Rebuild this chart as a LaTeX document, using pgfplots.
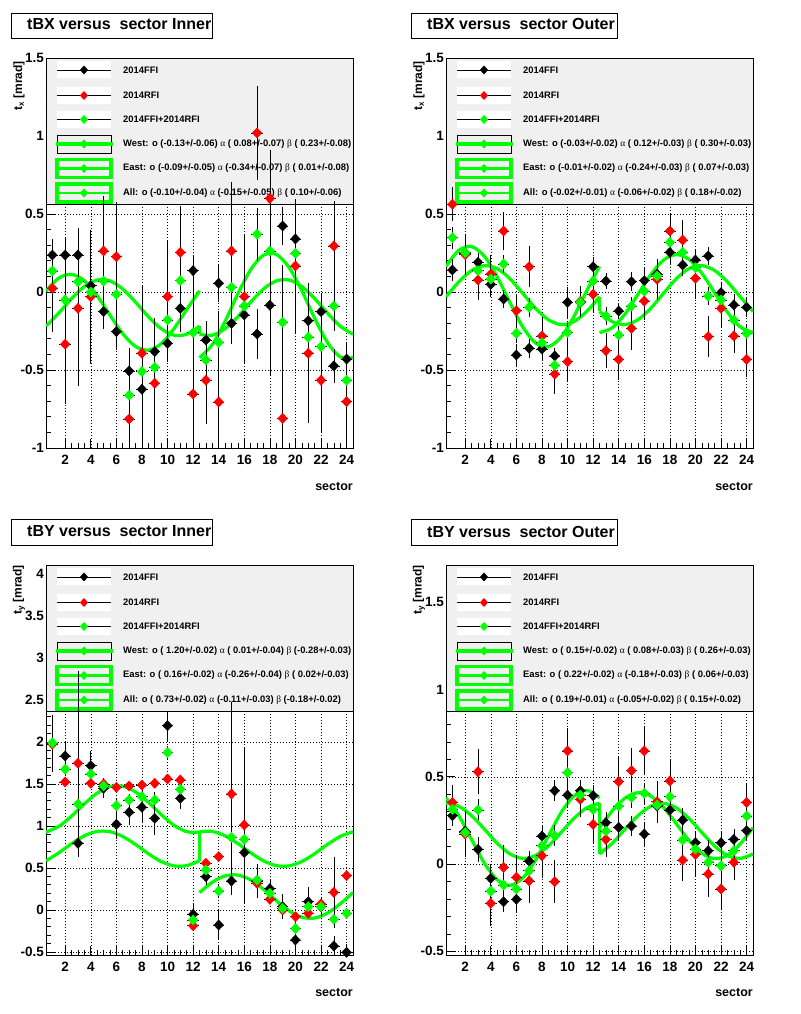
\documentclass[border=0pt]{standalone}
\usepackage{fontspec}
\setmainfont{Liberation Sans}
\newfontfamily\grk{Liberation Serif}
\usepackage{pgfplots}
\usepackage{pgfplotstable}
\pgfplotsset{compat=1.18}

\definecolor{rootgreen}{RGB}{0,255,0}
\definecolor{legfill}{RGB}{240,240,240}

\newcommand{\legfont}{\fontsize{9.4}{10}\selectfont\bfseries}
\newcommand{\tickfont}{\fontsize{13.5}{14}\selectfont\bfseries}
\newcommand{\titlefont}{\fontsize{16}{18}\selectfont\bfseries}
\newcommand{\labfont}{\fontsize{12.5}{14}\selectfont\bfseries}
\newcommand{\A}{{\grk\mdseries α}}
\newcommand{\B}{{\grk\mdseries β}}

\pgfplotsset{
  rootax/.style={
    scale only axis, width=307pt, height=390pt,
    xmin=0.5, xmax=24.5,
    xtick={2,4,...,24}, minor x tick num=3, minor y tick num=4,
    tick align=inside, tick pos=left,
    major tick length=9pt, minor tick length=5pt,
    grid=major,
    major grid style={black, line width=0.5pt, dash pattern=on 0.8pt off 2.2pt},
    axis line style={line width=0.8pt},
    tick style={black, line width=0.6pt},
    ticklabel style={font=\tickfont},
    /pgf/number format/assume math mode=true,
    yticklabel style={inner xsep=0pt, xshift=-2pt},
    xticklabel style={inner ysep=0pt, yshift=-7pt},
  },
  pts/.style={only marks, mark=diamond*, mark size=5.1pt, mark options={xscale=1.25},
    error bars/y dir=both, error bars/y explicit,
    error bars/x dir=both, error bars/x fixed=0.45,
    error bars/error mark=none,
    error bars/error bar style={black, line width=0.6pt}},
  fit/.style={rootgreen, line width=3.2pt, no marks},
}

% legend pieces, drawn inside the axis before the data
\newcommand{\diam}[3]{\fill[#1] ([shift={(#2pt,-#3pt)}]L) ++(0pt,4.5pt) -- ++(4.1pt,-4.5pt) -- ++(-4.1pt,-4.5pt) -- ++(-4.1pt,4.5pt) -- cycle;}
\newcommand{\plainkey}[3]{%
  \fill[white] ([shift={(11pt,-#1pt)}]L) ++(0pt,8.5pt) rectangle ++(54pt,-17pt);
  \draw[black, line width=0.6pt] ([shift={(11pt,-#1pt)}]L) -- ++(54pt,0pt);
  \diam{#2}{38}{#1}
  \node[anchor=west, inner sep=0pt, font=\legfont] at ([shift={(77pt,-#1pt)}]L) {#3};}
\newcommand{\boxkey}[2]{%
  \draw[rootgreen, line width=3.2pt] ([shift={(11pt,-#1pt)}]L) ++(0pt,9pt) rectangle ++(54pt,-18pt);
  \draw[rootgreen, line width=2.6pt] ([shift={(11pt,-#1pt)}]L) -- ++(54pt,0pt);
  \diam{rootgreen}{38}{#1}
  \node[anchor=west, inner sep=0pt, font=\legfont] at ([shift={(77pt,-#1pt)}]L) {#2};}
\newcommand{\legendbox}[3]{%
  \coordinate (L) at (rel axis cs:0,1);
  \filldraw[fill=legfill, draw=black, line width=0.8pt] (L) rectangle ([yshift=-146pt]rel axis cs:1,1);
  \plainkey{12}{black}{2014FFI}
  \plainkey{37.5}{red}{2014RFI}
  \plainkey{61.5}{rootgreen}{2014FFI+2014RFI}
  \draw[black, line width=0.8pt] ([shift={(11pt,-86pt)}]L) ++(0pt,9pt) rectangle ++(54pt,-18pt);
  \draw[rootgreen, line width=3.4pt] ([shift={(10pt,-86pt)}]L) -- ++(57pt,0pt);
  \diam{rootgreen}{38}{86}
  \node[anchor=west, inner sep=0pt, font=\legfont] at ([shift={(77pt,-86pt)}]L) {#1};
  \boxkey{110.5}{#2}
  \boxkey{135}{#3}}

% ---------- data: sector, FFI, err, RFI, err, FFI+RFI, err ----------
\pgfplotstableread{
s bk bke rd rde gr gre
1 0.237 0.10 0.024 0.28 0.135 0.12
2 0.237 0.11 -0.335 0.38 -0.051 0.20
3 0.237 0.17 -0.105 0.50 0.066 0.25
4 0.040 0.12 -0.030 0.43 0.000 0.20
5 -0.126 0.11 0.263 0.35 0.070 0.15
6 -0.254 0.12 0.226 0.35 -0.015 0.15
7 -0.506 0.15 -0.814 0.20 -0.662 0.15
8 -0.624 0.38 -0.393 0.43 -0.510 0.25
9 -0.382 0.16 -0.585 0.42 -0.483 0.20
10 -0.329 0.12 -0.030 0.36 -0.179 0.20
11 -0.105 0.15 0.254 0.30 0.073 0.20
12 0.137 0.10 -0.654 0.40 -0.260 0.30
13 -0.308 0.12 -0.566 0.28 -0.436 0.15
14 0.056 0.12 -0.705 0.33 -0.323 0.20
15 -0.201 0.13 0.263 0.44 0.030 0.20
16 -0.147 0.31 -0.030 0.40 -0.090 0.25
17 -0.269 0.16 1.020 0.30 0.370 0.17
18 -0.085 0.45 0.600 0.31 0.263 0.30
19 0.423 0.12 -0.810 0.25 -0.194 0.37
20 0.340 0.12 0.167 0.43 0.248 0.20
21 -0.184 0.24 -0.393 0.45 -0.290 0.20
22 -0.126 0.12 -0.566 0.34 -0.350 0.20
23 -0.474 0.11 0.295 0.29 -0.090 0.16
24 -0.430 0.11 -0.703 0.33 -0.566 0.20
}\tlpts
\pgfplotstableread{
s bk bke rd rde gr gre
1 0.141 0.07 0.562 0.11 0.348 0.07
2 0.250 0.10 0.240 0.13 0.252 0.08
3 0.190 0.06 0.077 0.13 0.137 0.06
4 0.049 0.08 0.115 0.12 0.083 0.06
5 -0.045 0.06 0.391 0.12 0.180 0.06
6 -0.404 0.07 -0.120 0.11 -0.265 0.06
7 -0.361 0.06 0.162 0.13 -0.098 0.06
8 -0.365 0.08 -0.282 0.12 -0.325 0.06
9 -0.410 0.05 -0.526 0.13 -0.470 0.06
10 -0.066 0.10 -0.447 0.13 -0.259 0.06
11 -0.068 0.08 -0.060 0.10 -0.066 0.06
12 0.162 0.06 -0.015 0.12 0.070 0.06
13 0.070 0.05 -0.376 0.11 -0.154 0.06
14 -0.122 0.05 -0.432 0.13 -0.276 0.06
15 0.066 0.06 -0.233 0.14 -0.090 0.06
16 0.073 0.08 -0.058 0.12 0.006 0.06
17 0.115 0.08 0.081 0.13 0.103 0.06
18 0.254 0.08 0.391 0.11 0.318 0.06
19 0.173 0.07 0.333 0.13 0.254 0.06
20 0.205 0.07 0.088 0.13 0.156 0.06
21 0.231 0.06 -0.286 0.13 -0.026 0.06
22 -0.004 0.07 -0.105 0.12 -0.051 0.06
23 -0.083 0.07 -0.282 0.11 -0.180 0.06
24 -0.098 0.06 -0.432 0.11 -0.265 0.06
}\trpts
\pgfplotstableread{
s bk bke rd rde gr gre
1 1.980 0.34 1.976 0.10 1.990 0.05
2 1.833 0.17 1.524 0.05 1.675 0.08
3 0.794 0.16 1.746 1.10 1.262 0.15
4 1.718 0.17 1.508 0.05 1.619 0.08
5 1.448 0.12 1.500 0.05 1.476 0.06
6 1.020 0.18 1.460 0.05 1.242 0.08
7 1.163 0.15 1.476 0.05 1.310 0.07
8 1.222 0.17 1.488 0.05 1.349 0.08
9 1.091 0.20 1.508 0.05 1.310 0.09
10 2.194 0.18 1.560 0.05 1.873 0.08
11 1.329 0.13 1.548 0.05 1.437 0.06
12 -0.052 0.12 -0.187 0.05 -0.119 0.06
13 0.397 0.10 0.556 0.05 0.476 0.05
14 -0.179 0.18 0.635 0.05 0.226 0.08
15 0.345 0.17 1.381 1.10 0.865 0.15
16 0.683 0.30 1.012 0.93 0.841 0.15
17 0.345 0.20 0.317 0.05 0.357 0.08
18 0.254 0.10 0.127 0.05 0.198 0.05
19 0.040 0.15 0.000 0.05 0.020 0.07
20 -0.357 0.20 -0.080 0.05 -0.222 0.08
21 0.099 0.17 -0.040 0.05 0.040 0.08
22 0.040 0.12 0.071 0.05 0.040 0.06
23 -0.429 0.12 0.210 0.42 -0.111 0.10
24 -0.504 0.10 0.409 0.05 -0.040 0.06
}\blpts
\pgfplotstableread{
s bk bke rd rde gr gre
1 0.277 0.06 0.353 0.10 0.313 0.06
2 0.189 0.10 0.172 0.13 0.181 0.06
3 0.084 0.07 0.529 0.13 0.310 0.06
4 -0.082 0.08 -0.225 0.13 -0.155 0.06
5 -0.216 0.06 -0.019 0.13 -0.120 0.06
6 -0.202 0.07 -0.076 0.13 -0.143 0.06
7 0.017 0.06 -0.096 0.13 -0.038 0.06
8 0.160 0.06 0.048 0.13 0.105 0.06
9 0.420 0.06 -0.101 0.125 0.162 0.06
10 0.395 0.07 0.648 0.13 0.523 0.06
11 0.420 0.06 0.371 0.10 0.395 0.06
12 0.392 0.06 0.227 0.11 0.313 0.06
13 0.237 0.06 0.141 0.10 0.189 0.06
14 0.210 0.07 0.472 0.14 0.332 0.06
15 0.218 0.06 0.535 0.13 0.382 0.06
16 0.172 0.07 0.648 0.14 0.405 0.06
17 0.332 0.06 0.357 0.12 0.338 0.06
18 0.309 0.06 0.476 0.12 0.386 0.06
19 0.252 0.07 0.023 0.12 0.138 0.06
20 0.122 0.06 0.055 0.13 0.086 0.06
21 0.076 0.06 -0.057 0.13 0.010 0.06
22 0.122 0.07 -0.143 0.12 -0.010 0.06
23 0.141 0.06 0.010 0.10 0.076 0.06
24 0.191 0.06 0.353 0.11 0.275 0.06
}\brpts

% ---------- fit curves: west half (w, all) and east half (e, all) ----------
\pgfplotstableread{
s w a
0.5 0.007 -0.219
1.5 0.089 -0.135
2.5 0.113 -0.042
3.5 0.072 0.035
4.5 -0.024 0.077
5.5 -0.148 0.071
6.5 -0.267 0.019
7.5 -0.349 -0.065
8.5 -0.373 -0.158
9.5 -0.332 -0.235
10.5 -0.236 -0.277
11.5 -0.112 -0.271
12.5 0.007 -0.219
}\tlwest
\pgfplotstableread{
s e a
12.5 -0.421 -0.271
13.5 -0.338 -0.277
14.5 -0.188 -0.235
15.5 -0.012 -0.158
16.5 0.143 -0.065
17.5 0.236 0.019
18.5 0.241 0.071
19.5 0.158 0.077
20.5 0.008 0.035
21.5 -0.168 -0.042
22.5 -0.323 -0.135
23.5 -0.416 -0.219
24.5 -0.421 -0.271
}\tleast
\pgfplotstableread{
s w a
0.5 0.164 -0.031
1.5 0.267 0.065
2.5 0.291 0.138
3.5 0.229 0.169
4.5 0.097 0.150
5.5 -0.068 0.085
6.5 -0.224 -0.009
7.5 -0.327 -0.105
8.5 -0.351 -0.178
9.5 -0.289 -0.209
10.5 -0.157 -0.190
11.5 0.008 -0.125
12.5 0.164 -0.031
}\trwest
\pgfplotstableread{
s e a
12.5 -0.260 -0.125
13.5 -0.229 -0.190
14.5 -0.140 -0.209
15.5 -0.016 -0.178
16.5 0.110 -0.105
17.5 0.204 -0.009
18.5 0.240 0.085
19.5 0.209 0.150
20.5 0.120 0.169
21.5 -0.005 0.138
22.5 -0.130 0.065
23.5 -0.224 -0.031
24.5 -0.260 -0.125
}\treast
\pgfplotstableread{
s w a
0.5 0.927 0.585
1.5 0.995 0.681
2.5 1.118 0.790
3.5 1.263 0.883
4.5 1.391 0.935
5.5 1.468 0.932
6.5 1.473 0.875
7.5 1.405 0.780
8.5 1.282 0.670
9.5 1.137 0.577
10.5 1.009 0.525
11.5 0.932 0.528
12.5 0.927 0.585
}\blwest
\pgfplotstableread{
s e a
12.5 0.208 0.932
13.5 0.330 0.935
14.5 0.406 0.883
15.5 0.416 0.790
16.5 0.358 0.681
17.5 0.247 0.585
18.5 0.112 0.528
19.5 -0.010 0.525
20.5 -0.086 0.577
21.5 -0.096 0.670
22.5 -0.038 0.780
23.5 0.073 0.875
24.5 0.208 0.932
}\bleast
\pgfplotstableread{
s w a
0.5 0.380 0.348
1.5 0.277 0.331
2.5 0.140 0.277
3.5 0.005 0.200
4.5 -0.090 0.119
5.5 -0.122 0.058
6.5 -0.080 0.032
7.5 0.023 0.049
8.5 0.160 0.103
9.5 0.295 0.181
10.5 0.390 0.261
11.5 0.422 0.322
12.5 0.380 0.348
}\brwest
\pgfplotstableread{
s e a
12.5 0.209 0.058
13.5 0.305 0.119
14.5 0.378 0.200
15.5 0.409 0.277
16.5 0.390 0.331
17.5 0.325 0.348
18.5 0.231 0.322
19.5 0.135 0.261
20.5 0.062 0.181
21.5 0.031 0.103
22.5 0.050 0.049
23.5 0.115 0.032
24.5 0.209 0.058
}\breast

\newcommand{\panelplots}[3]{% points table, west table, east table
  \addplot[fit, smooth] table[x=s, y=w] {#2};
  \addplot[fit, smooth] table[x=s, y=a] {#2};
  \addplot[fit, smooth] table[x=s, y=e] {#3};
  \addplot[fit, smooth] table[x=s, y=a] {#3};
  \addplot[pts, color=black] table[x=s, y=bk, y error=bke] {#1};
  \addplot[pts, color=red] table[x=s, y=rd, y error=rde] {#1};
  \addplot[pts, color=rootgreen] table[x=s, y=gr, y error=gre] {#1};}

\begin{document}
\begin{tikzpicture}
\useasboundingbox (0,0) rectangle (800pt,1014pt);
\fill[white] (0,0) rectangle (800pt,1014pt);

% titles
\draw[line width=0.8pt] (11pt,976pt) rectangle (212pt,1001pt);
\node[anchor=west, inner sep=0pt, font=\titlefont] at (27pt,989.5pt) {tBX versus~~sector Inner};
\draw[line width=0.8pt] (411pt,976pt) rectangle (617pt,1001pt);
\node[anchor=west, inner sep=0pt, font=\titlefont] at (427pt,989.5pt) {tBX versus~~sector Outer};
\draw[line width=0.8pt] (11pt,469pt) rectangle (212pt,495pt);
\node[anchor=west, inner sep=0pt, font=\titlefont] at (27pt,482.5pt) {tBY versus~~sector Inner};
\draw[line width=0.8pt] (411pt,469pt) rectangle (617pt,495pt);
\node[anchor=west, inner sep=0pt, font=\titlefont] at (427pt,482.5pt) {tBY versus~~sector Outer};

% axis titles
\foreach \xx/\yy/\tt in {19/953/x, 419/953/x, 19/449/y, 419/449/y}
  \node[rotate=90, anchor=east, inner sep=0pt, font=\fontsize{12}{13}\selectfont\bfseries] at (\xx pt,\yy pt) {t\textsubscript{\tt} [mrad]};
\foreach \xx/\yy in {353/528, 753/528, 353/21.3, 753/21.3}
  \node[anchor=east, inner sep=0pt, font=\labfont] at (\xx pt,\yy pt) {sector};

% tBX Inner
\begin{axis}[rootax, at={(46pt,566pt)}, anchor=south west,
  ymin=-1, ymax=1.5, ytick={-1,-0.5,0,0.5,1,1.5}]
\legendbox{West: o (-0.13+/-0.06) \A{} ( 0.08+/-0.07) \B{} ( 0.23+/-0.08)}
  {East: o (-0.09+/-0.05) \A{} (-0.34+/-0.07) \B{} ( 0.01+/-0.08)}
  {All: o (-0.10+/-0.04) \A{} (-0.15+/-0.05) \B{} ( 0.10+/-0.06)}
\addplot[fit] coordinates {(12.5,-0.219) (12.5,-0.271)};
\panelplots{\tlpts}{\tlwest}{\tleast}
\end{axis}

% tBX Outer
\begin{axis}[rootax, at={(446pt,566pt)}, anchor=south west,
  ymin=-1, ymax=1.5, ytick={-1,-0.5,0,0.5,1,1.5}]
\legendbox{West: o (-0.03+/-0.02) \A{} ( 0.12+/-0.03) \B{} ( 0.30+/-0.03)}
  {East: o (-0.01+/-0.02) \A{} (-0.24+/-0.03) \B{} ( 0.07+/-0.03)}
  {All: o (-0.02+/-0.01) \A{} (-0.06+/-0.02) \B{} ( 0.18+/-0.02)}
\addplot[fit] coordinates {(12.5,-0.031) (12.5,-0.125)};
\panelplots{\trpts}{\trwest}{\treast}
\end{axis}

% tBY Inner
\begin{axis}[rootax, at={(46pt,59pt)}, anchor=south west,
  ymin=-0.536, ymax=4.107, ytick={-0.5,0,0.5,1,1.5,2,2.5,3,3.5,4}]
\legendbox{West: o ( 1.20+/-0.02) \A{} ( 0.01+/-0.04) \B{} (-0.28+/-0.03)}
  {East: o ( 0.16+/-0.02) \A{} (-0.26+/-0.04) \B{} ( 0.02+/-0.03)}
  {All: o ( 0.73+/-0.02) \A{} (-0.11+/-0.03) \B{} (-0.18+/-0.02)}
\addplot[fit] coordinates {(12.5,0.585) (12.5,0.932)};
\panelplots{\blpts}{\blwest}{\bleast}
\end{axis}

% tBY Outer
\begin{axis}[rootax, at={(446pt,59pt)}, anchor=south west,
  ymin=-0.521, ymax=1.713, ytick={-0.5,0,0.5,1,1.5}]
\legendbox{West: o ( 0.15+/-0.02) \A{} ( 0.08+/-0.03) \B{} ( 0.26+/-0.03)}
  {East: o ( 0.22+/-0.02) \A{} (-0.18+/-0.03) \B{} ( 0.06+/-0.03)}
  {All: o ( 0.19+/-0.01) \A{} (-0.05+/-0.02) \B{} ( 0.15+/-0.02)}
\addplot[fit] coordinates {(12.5,0.348) (12.5,0.058)};
\panelplots{\brpts}{\brwest}{\breast}
\end{axis}
\end{tikzpicture}
\end{document}
